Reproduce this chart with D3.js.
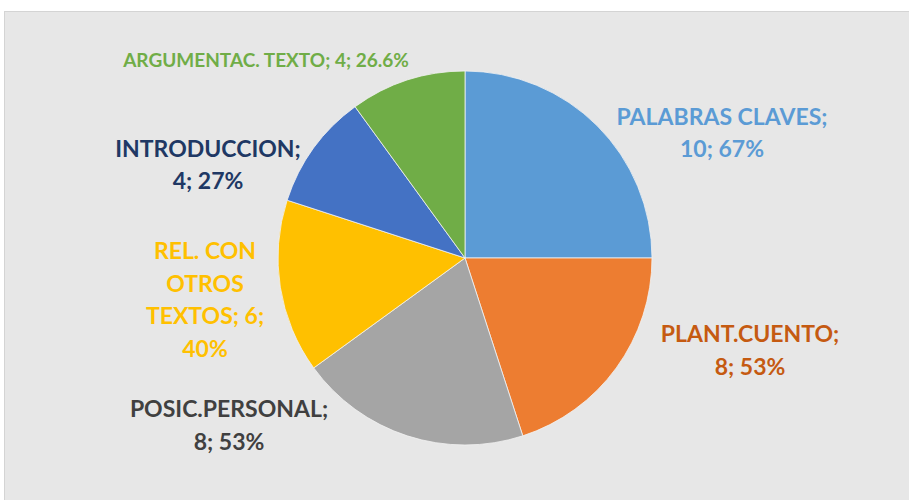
<!DOCTYPE html>
<html>
<head>
<meta charset="utf-8">
<script src="https://cdn.jsdelivr.net/npm/d3@7"></script>
<style>
  body { margin: 0; background: #fff; }
  text { font-family: Lato, "Open Sans", sans-serif; font-weight: bold; }
</style>
</head>
<body>
<script>
// data
var categories = ["PALABRAS CLAVES", "PLANT.CUENTO", "POSIC.PERSONAL", "REL. CON OTROS TEXTOS", "INTRODUCCION", "ARGUMENTAC. TEXTO"];
var values = [10, 8, 8, 6, 4, 4];
var percents = ["67%", "53%", "53%", "40%", "27%", "26.6%"];

// label lines as shown in the chart
var labelLines = [
  ["PALABRAS CLAVES;", "10; 67%"],
  ["PLANT.CUENTO;", "8; 53%"],
  ["POSIC.PERSONAL;", "8; 53%"],
  ["REL. CON", "OTROS", "TEXTOS; 6;", "40%"],
  ["INTRODUCCION;", "4; 27%"],
  ["ARGUMENTAC. TEXTO; 4; 26.6%"]
];

var sliceColors = ["#5b9bd5", "#ed7d31", "#a5a5a5", "#ffc000", "#4472c4", "#70ad47"];
var textColors = ["#5b9bd5", "#c55a11", "#404040", "#ffc000", "#203864", "#70ad47"];
// label anchor (center x, first baseline y), line height, font size
var labelPos = [[722, 125, 32, 23], [750, 342, 33, 23], [229, 417, 33, 23], [205, 259, 32.7, 23], [208, 157, 32, 23], [266, 67, 0, 19]];

var width = 909, height = 500;
var cx = 465, cy = 258, radius = 187;

var svg = d3.select("body").append("svg")
	.attr("width", width)
	.attr("height", height);

svg.append("rect")
	.attr("x", 4.5)
	.attr("y", 11.5)
	.attr("width", width)
	.attr("height", height)
	.attr("fill", "#e7e7e7")
	.attr("stroke", "#d4d4d4");

var pie = d3.pie().sort(null).value(function(d) { return d; });
var arc = d3.arc().innerRadius(0).outerRadius(radius);

var g = svg.append("g").attr("transform", "translate(" + cx + "," + cy + ")");

g.selectAll("path")
	.data(pie(values))
	.enter().append("path")
	.attr("d", arc)
	.attr("fill", function(d, i) { return sliceColors[i]; })
	.attr("stroke", "#f2f2f2")
	.attr("stroke-width", 0.8);

var labels = svg.selectAll("text.lbl")
	.data(categories)
	.enter().append("text")
	.attr("class", "lbl")
	.attr("text-anchor", "middle")
	.attr("fill", function(d, i) { return textColors[i]; })
	.attr("font-size", function(d, i) { return labelPos[i][3]; })
	.attr("transform", function(d, i) { return "translate(" + labelPos[i][0] + "," + labelPos[i][1] + ")"; });

labels.each(function(d, i) {
	var t = d3.select(this);
	labelLines[i].forEach(function(line, j) {
		t.append("tspan")
			.attr("x", 0)
			.attr("y", j * labelPos[i][2])
			.text(line);
	});
});
</script>
</body>
</html>
